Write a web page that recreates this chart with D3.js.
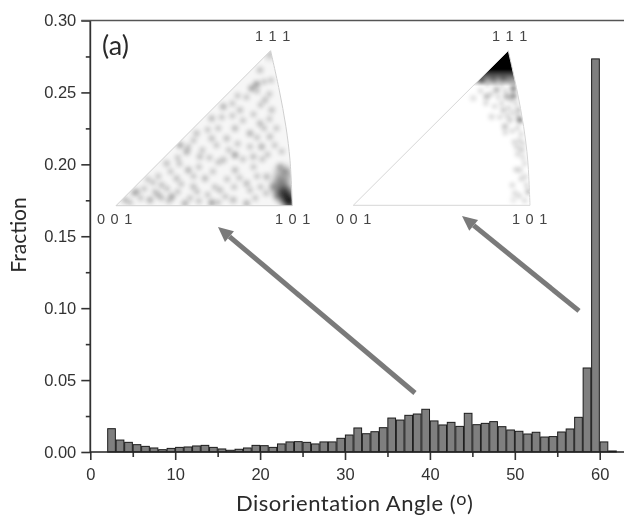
<!DOCTYPE html>
<html>
<head>
<meta charset="utf-8">
<script src="https://cdn.jsdelivr.net/npm/d3@7"></script>
<style>
  html, body { margin: 0; padding: 0; background: #fff; }
  svg { display: block; }
  .tick text { font-family: "Liberation Sans", Arial, sans-serif; font-size: 16.5px; fill: #333; }
  .pole { font-family: "Liberation Sans", Arial, sans-serif; font-size: 14.5px; letter-spacing: .8px; fill: #444; }
  .title { font-family: Lato, sans-serif; fill: #2a2a2a; }
</style>
</head>
<body>
<div id="chart"></div>
<script>
// histogram, one bin per degree starting at 2
var binStart = d3.range(2, 62);
var fraction = [
  .0162, .0083, .0067, .0051, .0039, .0028, .0016, .0025, .0032, .0035,
  .0042, .0046, .0032, .0021, .0012, .0019, .0028, .0046, .0044, .0032,
  .0056, .0070, .0072, .0067, .0056, .0070, .0070, .0095, .0118, .0167,
  .0127, .0141, .0169, .0236, .0222, .0255, .0264, .0297, .0216, .0188,
  .0206, .0178, .0269, .0190, .0199, .0211, .0176, .0153, .0144, .0125,
  .0137, .0104, .0107, .0139, .0160, .0241, .0584, .2733, .0070, .0007
];
var xTicks = [0, 10, 20, 30, 40, 50, 60];
var xMinorTicks = [5, 15, 25, 35, 45, 55];
var yTicks = [0, .05, .10, .15, .20, .25, .30];
var yMinorTicks = [.025, .075, .125, .175, .225, .275];

// arrows, in axis units: [x tail, y tail, x head, y head]
var arrowLeft = [38.24, .0410, 15.04, .1565];
var arrowRight = [57.56, .0981, 43.78, .1641];

// inverse pole figure outline, fractions of the triangle
var arcU = [.877, .926, .964, .987, 1];
var arcV = [1, .746, .509, .293, 0];

// speckles
var leftU = [.798, .769, .609, .543, .675, .817, .760, .363, .401, .675, .826, .287, .410, .505, .675, .117, .193, .316, .391, .543, .665, .741, .590, .476, .703, .883, .628, .543, .259, .344, .779, .873, .845, .817, .930, .457, .051, .240, .439, .741, .609, .854];
var leftV = [.785, .757, .639, .563, .499, .531, .467, .391, .348, .327, .381, .273, .230, .176, .230, .090, .037, .058, .015, .019, .037, .144, .101, .316, .617, .617, .434, .434, .133, .176, .316, .445, .682, .875, .252, .467, .037, .069, .123, .015, .295, .187];
var leftTone = [.34, .3, .26, .22, .22, .22, .26, .3, .26, .32, .26, .2, .26, .22, .22, .26, .26, .3, .26, .32, .22, .22, .2, .2, .2, .2, .2, .2, .2, .2, .2, .2, .2, .2, .22, .2, .22, .22, .2, .26, .2, .22];
var leftFaintU = [.08, .14, .16, .22, .26, .29, .24, .31, .35, .37, .36, .42, .46, .44, .47, .41, .44, .49, .52, .56, .55, .58, .53, .57, .52, .58, .60, .63, .62, .67, .70, .64, .69, .72, .66, .72, .74, .69, .66, .76, .79, .80, .78, .83, .76, .80, .86, .84, .78, .87, .91, .82, .87, .80, .84, .88, .90, .94, .96, .89, .85, .82, .91, .35, .21, .18, .10, .30, .47, .58];
var leftFaintV = [.02, .05, .11, .09, .05, .11, .19, .22, .09, .14, .27, .05, .09, .19, .25, .38, .42, .36, .07, .12, .22, .28, .31, .39, .49, .50, .57, .17, .06, .12, .18, .36, .40, .30, .58, .55, .70, .71, .66, .10, .05, .19, .25, .30, .38, .44, .33, .50, .59, .56, .50, .65, .72, .74, .80, .81, .39, .35, .22, .12, .08, .12, .06, .31, .15, .17, .08, .03, .03, .02];
// dark corners of the left figure
var leftDarkU = [.985, .96, .93, .95, .875];
var leftDarkV = [.025, .07, .12, .20, .975];
var leftDarkTone = [1, .75, .4, .3, .55];
var leftDarkR = [6, 8, 9, 9, 3];

// speckles
var rightU = [.726, .792, .849, .906, .811, .755, .868, .906, .679, .783, .849, .858, .943, .934, .887, .953, .925, .991, .915, .943, .906, .972];
var rightV = [.810, .821, .821, .756, .746, .703, .703, .707, .692, .573, .616, .509, .552, .616, .552, .358, .379, .088, .078, .228, .034, .185];
var rightTone = [.55, .3, .34, .55, .32, .3, .34, .5, .14, .16, .22, .26, .55, .26, .2, .2, .16, .28, .14, .16, .1, .14];
var rightFaintU = [.76, .80, .84, .88, .91, .78, .82, .86, .89, .72, .75, .80, .84, .88, .92, .83, .87, .90, .93, .86, .90, .93, .95, .91, .94, .96, .93, .96, .97, .92, .95, .98, .90, .94, .97];
var rightFaintV = [.78, .79, .78, .80, .79, .72, .70, .74, .68, .74, .66, .64, .66, .63, .66, .57, .58, .60, .58, .47, .48, .50, .46, .41, .42, .40, .33, .31, .27, .23, .17, .13, .13, .06, .03];

var width = 624, height = 523;
var margin = {top: 20.5, right: 0, bottom: 71, left: 90.3};

var svg = d3.select('#chart').append('svg')
    .attr('width', width)
    .attr('height', height);

var defs = svg.append('defs');
defs.append('filter').attr('id', 'soft')
    .append('feGaussianBlur').attr('stdDeviation', .45);

function blurFilter(id, amount) {
  defs.append('filter').attr('id', id)
      .attr('x', '-10%').attr('y', '-10%').attr('width', '120%').attr('height', '120%')
      .append('feGaussianBlur').attr('stdDeviation', amount);
}
blurFilter('speckle', 1.9);
blurFilter('smear', 3.5);

var x = d3.scaleLinear().domain([0, 62.86]).range([margin.left, width]);
var y = d3.scaleLinear().domain([0, .3]).range([height - margin.bottom, margin.top]);

var root = svg.append('g').attr('filter', 'url(#soft)');

// bars
root.append('g').selectAll('rect')
    .data(binStart)
  .enter().append('rect')
    .attr('x', function(d) { return x(d) + .4; })
    .attr('width', function(d) { return x(d + 1) - x(d) - .8; })
    .attr('y', function(d, i) { return y(fraction[i]); })
    .attr('height', function(d, i) { return y(0) - y(fraction[i]); })
    .attr('fill', '#7f7f7f')
    .attr('stroke', '#1c1c1c')
    .attr('stroke-width', 1);

// axes
var xAxis = d3.axisBottom(x).tickValues(xTicks).tickSize(8).tickPadding(8).tickFormat(d3.format('d'));
var xMinor = d3.axisBottom(x).tickValues(xMinorTicks).tickSize(5).tickFormat('');
var yAxis = d3.axisLeft(y).tickValues(yTicks).tickSize(9).tickPadding(5).tickFormat(d3.format('.2f'));
var yMinor = d3.axisLeft(y).tickValues(yMinorTicks).tickSize(4.5).tickFormat('');

function styleAxis(g) {
  g.selectAll('.domain').remove();
  g.selectAll('line').attr('stroke', '#333').attr('stroke-width', 1.6);
}

root.append('g').attr('transform', 'translate(0,' + y(0) + ')').call(xAxis).call(styleAxis);
root.append('g').attr('transform', 'translate(0,' + y(0) + ')').call(xMinor).call(styleAxis);
root.append('g').attr('transform', 'translate(' + x(0) + ',0)').call(yAxis).call(styleAxis);
root.append('g').attr('transform', 'translate(' + x(0) + ',0)').call(yMinor).call(styleAxis);

root.append('line')
    .attr('x1', x(0)).attr('x2', x(0)).attr('y1', y(.3)).attr('y2', y(0))
    .attr('stroke', '#333').attr('stroke-width', 1.8);
root.append('line')
    .attr('x1', x(0)).attr('x2', width).attr('y1', y(0)).attr('y2', y(0))
    .attr('stroke', '#222').attr('stroke-width', 1.6);
root.append('line')
    .attr('x1', x(0) - 9).attr('x2', width).attr('y1', y(.3)).attr('y2', y(.3))
    .attr('stroke', '#555').attr('stroke-width', 1.6);

// inverse pole figures
function poleFigure(id, left, right, bottom, top) {
  var u = d3.scaleLinear().domain([0, 1]).range([left, right]);
  var v = d3.scaleLinear().domain([0, 1]).range([bottom, top]);
  var g = root.append('g');

  var arc = d3.line()
      .x(function(d, i) { return u(arcU[i]); })
      .y(function(d, i) { return v(arcV[i]); })
      .curve(d3.curveCatmullRom);
  var outline = 'M' + u(0) + ',' + v(0) + 'L' + arc(arcU).slice(1) + 'Z';

  defs.append('clipPath').attr('id', id).append('path').attr('d', outline);

  g.u = u;
  g.v = v;
  g.outline = outline;
  g.body = g.append('g').attr('clip-path', 'url(#' + id + ')');
  return g;
}

function speckles(fig, us, vs, tone, radius, filter) {
  fig.body.append('g').attr('filter', 'url(#' + filter + ')').selectAll('circle')
      .data(us)
    .enter().append('circle')
      .attr('cx', function(d) { return fig.u(d); })
      .attr('cy', function(d, i) { return fig.v(vs[i]); })
      .attr('r', function(d, i) { return radius.length ? radius[i] : radius; })
      .attr('fill', '#000')
      .attr('fill-opacity', function(d, i) { return tone.length ? tone[i] : tone; });
}

function poleLabels(left, right, apexX, lowY) {
  root.append('text').attr('class', 'pole').attr('x', apexX).attr('y', 41)
      .attr('text-anchor', 'middle').text('1 1 1');
  root.append('text').attr('class', 'pole').attr('x', left).attr('y', lowY)
      .attr('text-anchor', 'middle').text('0 0 1');
  root.append('text').attr('class', 'pole').attr('x', right).attr('y', lowY)
      .attr('text-anchor', 'middle').text('1 0 1');
}

var figLeft = poleFigure('fig-left', 116, 292.3, 205.7, 50.7);
figLeft.body.append('path').attr('d', figLeft.outline).attr('fill', '#f6f6f6');
speckles(figLeft, leftFaintU, leftFaintV, .2, 3, 'speckle');
speckles(figLeft, leftU, leftV, leftTone, 3.4, 'speckle');
speckles(figLeft, leftDarkU, leftDarkV, leftDarkTone, leftDarkR, 'smear');
figLeft.append('path').attr('d', figLeft.outline)
    .attr('fill', 'none').attr('stroke', '#cfcfcf').attr('stroke-width', 1);
poleLabels(115, 293, 273, 224);

var figRight = poleFigure('fig-right', 353.3, 530, 205.3, 50.7);
var apexFade = defs.append('linearGradient').attr('id', 'apex-fade')
    .attr('x1', 0).attr('x2', 0).attr('y1', 0).attr('y2', 1);
apexFade.append('stop').attr('offset', '0%').attr('stop-color', '#000');
apexFade.append('stop').attr('offset', '52%').attr('stop-color', '#000');
apexFade.append('stop').attr('offset', '100%').attr('stop-color', '#000').attr('stop-opacity', 0);
figRight.body.append('rect')
    .attr('x', figRight.u(.6)).attr('width', figRight.u(1) - figRight.u(.6))
    .attr('y', figRight.v(1)).attr('height', figRight.v(.77) - figRight.v(1))
    .attr('fill', 'url(#apex-fade)');
speckles(figRight, rightFaintU, rightFaintV, .2, 2.4, 'speckle');
speckles(figRight, rightU, rightV, rightTone, 3, 'speckle');
figRight.append('path').attr('d', figRight.outline)
    .attr('fill', 'none').attr('stroke', '#d6d6d6').attr('stroke-width', 1);
poleLabels(354, 530, 510, 224);

// arrows
function drawArrow(a) {
  var x0 = x(a[0]), y0 = y(a[1]), x1 = x(a[2]), y1 = y(a[3]);
  var t = Math.atan2(y1 - y0, x1 - x0);
  var len = 15, wing = 7;
  var bx = x1 - len * Math.cos(t), by = y1 - len * Math.sin(t);
  root.append('line')
      .attr('x1', x0).attr('y1', y0).attr('x2', bx).attr('y2', by)
      .attr('stroke', '#7a7a7a').attr('stroke-width', 5);
  root.append('path')
      .attr('d', d3.line()([
        [x1, y1],
        [bx - wing * Math.sin(t), by + wing * Math.cos(t)],
        [bx + wing * Math.sin(t), by - wing * Math.cos(t)]
      ]) + 'Z')
      .attr('fill', '#7a7a7a');
}
drawArrow(arrowLeft);
drawArrow(arrowRight);

// labels
root.append('text').attr('class', 'title')
    .attr('x', 102).attr('y', 55)
    .style('font-size', '27px')
    .text('(a)');

root.append('text').attr('class', 'title')
    .attr('transform', 'translate(26,235) rotate(-90)')
    .attr('text-anchor', 'middle')
    .style('font-size', '21px')
    .text('Fraction');

var xTitle = root.append('text').attr('class', 'title')
    .attr('x', 236).attr('y', 511)
    .style('font-size', '22px')
    .style('letter-spacing', '.5px')
    .text('Disorientation Angle (');
xTitle.append('tspan').attr('dy', -6).style('font-size', '18px').text('o');
xTitle.append('tspan').attr('dy', 6).text(')');
</script>
</body>
</html>
